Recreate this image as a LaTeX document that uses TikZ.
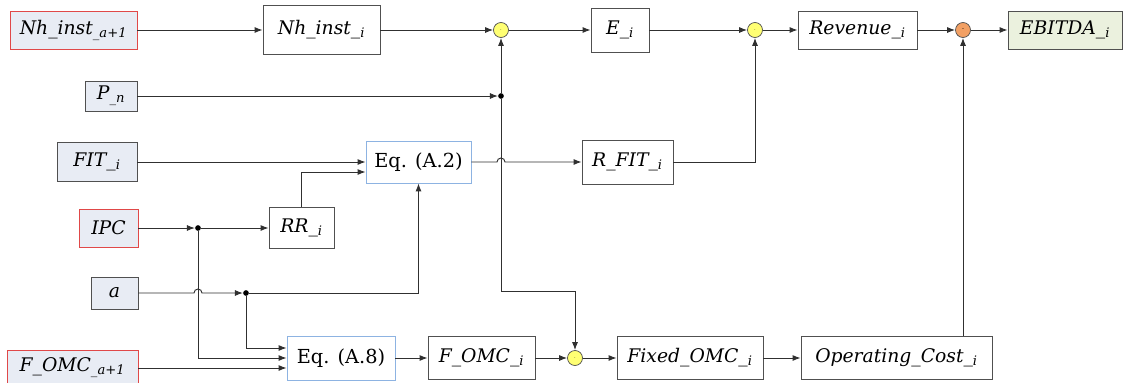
\documentclass[tikz,border=0pt]{standalone}
\usepackage{fontspec}
\setmainfont{DejaVu Serif}
\usepackage{tikz}
\usetikzlibrary{arrows.meta, positioning, calc}
\usepackage{xcolor}

\definecolor{inFill}{HTML}{E8ECF4}
\definecolor{outFill}{HTML}{EBF1DE}
\definecolor{redEdge}{HTML}{E04848}
\definecolor{boxGray}{HTML}{505050}
\definecolor{eqBlue}{HTML}{8DB3E2}
\definecolor{sumYellow}{HTML}{FFFF73}
\definecolor{subOrange}{HTML}{F2A064}
\definecolor{lineGray}{HTML}{303030}

\begin{document}
\begin{tikzpicture}[
    x=0.3mm, y=-0.3mm,
    varNode/.style={rectangle, fill=white, draw=boxGray, line width=0.7pt, inner sep=0pt, font=\fontsize{16}{19}\selectfont\itshape},
    inNode/.style={varNode, fill=inFill},
    keyNode/.style={inNode, draw=redEdge, line width=0.8pt},
    outNode/.style={varNode, fill=outFill},
    eqNode/.style={rectangle, fill=white, draw=eqBlue, line width=0.7pt, inner sep=0pt, font=\fontsize{16.5}{19}\selectfont},
    sumNode/.style={circle, fill=sumYellow, draw=boxGray, line width=0.6pt, minimum size=4.5mm, inner sep=0pt, font=\tiny},
    subNode/.style={sumNode, fill=subOrange},
    dotNode/.style={circle, fill=black, inner sep=0pt, minimum size=1.7mm},
    flowRel/.style={-{Latex[length=2.4mm, width=1.8mm]}, line width=0.8pt, draw=lineGray},
    plainRel/.style={line width=0.8pt, draw=lineGray}
]
    \useasboundingbox (0,0) rectangle (1123,383);
    \clip (0,0) rectangle (1123,383);

    % Inputs (left column)
    \node[keyNode, minimum width=38.1mm, minimum height=11.4mm] (nhA)   at (73.5,30) {Nh\_inst\textsubscript{\_a+1}};
    \node[inNode,  minimum width=15.6mm, minimum height=9mm]    (pn)    at (111,96)  {P\textsubscript{\_n}};
    \node[inNode,  minimum width=24mm,   minimum height=11.7mm] (fit)   at (97,162)  {FIT\_\textsubscript{i}};
    \node[keyNode, minimum width=17.7mm, minimum height=11.4mm] (ipc)   at (108.5,228) {IPC};
    \node[inNode,  minimum width=14.1mm, minimum height=9.6mm]  (aa)    at (114.5,293) {a};
    \node[keyNode, minimum width=39.3mm, minimum height=10.8mm] (fomcA) at (72.5,368) {F\_OMC\textsubscript{\_a+1}};

    % Intermediate blocks
    \node[varNode, minimum width=35.1mm, minimum height=14.7mm] (nhI)  at (321.5,30) {Nh\_inst\_\textsubscript{i}};
    \node[varNode, minimum width=19.5mm, minimum height=12.3mm] (rr)   at (301.5,228) {RR\_\textsubscript{i}};
    \node[eqNode,  minimum width=31.5mm, minimum height=12.6mm] (eqa2) at (418.5,162) {Eq. (A.2)};
    \node[eqNode,  minimum width=32.4mm, minimum height=13.2mm] (eqa8) at (341,358)   {Eq. (A.8)};
    \node[varNode, minimum width=17.4mm, minimum height=13.2mm] (ee)   at (620,30)    {E\_\textsubscript{i}};
    \node[varNode, minimum width=27.3mm, minimum height=13.2mm] (rfit) at (627.5,162) {R\_FIT\_\textsubscript{i}};
    \node[varNode, minimum width=32.1mm, minimum height=12.9mm] (fomc) at (481.5,358) {F\_OMC\_\textsubscript{i}};
    \node[varNode, minimum width=43.8mm, minimum height=12.9mm] (fixed) at (690,358)  {Fixed\_OMC\_\textsubscript{i}};
    \node[varNode, minimum width=57.3mm, minimum height=12.9mm] (opcost) at (896.5,358) {Operating\_Cost\_\textsubscript{i}};
    \node[varNode, minimum width=35.7mm, minimum height=11.4mm] (rev)  at (857.5,30)  {Revenue\_\textsubscript{i}};
    \node[outNode, minimum width=34.2mm, minimum height=11.4mm] (ebitda) at (1065,30) {EBITDA\_\textsubscript{i}};

    % Operators and junctions
    \node[sumNode] (sum1) at (501,30) {$\cdot$};
    \node[sumNode] (sum2) at (755,30) {$\cdot$};
    \node[sumNode] (sum3) at (575,358) {$\cdot$};
    \node[subNode] (minus) at (963,30) {-};
    \node[dotNode] (junc1) at (501,96) {};
    \node[dotNode] (ipcdot) at (198,228) {};
    \node[dotNode] (adot) at (246,293) {};
    \coordinate (omcTurn) at (501,291);

    % Top chain
    \draw[flowRel] (nhA) -- (nhI);
    \draw[flowRel] (nhI) -- (sum1);
    \draw[flowRel] (sum1) -- (ee);
    \draw[flowRel] (ee) -- (sum2);
    \draw[flowRel] (sum2) -- (rev);
    \draw[flowRel] (rev) -- (minus);
    \draw[flowRel] (minus) -- (ebitda);

    % Price line
    \draw[flowRel] (pn) -- (junc1);
    \draw[flowRel] (junc1) -- (sum1);
    \draw[flowRel] (junc1) -- (omcTurn) -| (sum3);

    % Feed-in tariff
    \draw[flowRel] (fit) -- (eqa2);
    \draw[flowRel] (eqa2) -- ($(junc1 |- eqa2)+(-4,0)$) arc[start angle=180, end angle=0, radius=1.2mm] -- (rfit);
    \draw[flowRel] (rfit) -| (sum2);

    % IPC and a
    \draw[flowRel] (ipc) -- (ipcdot);
    \draw[flowRel] (ipcdot) -- (rr);
    \draw[flowRel] (rr.north) |- ($(eqa2.west)+(0,10)$);
    \draw[flowRel] (ipcdot) |- (eqa8.west);
    \draw[flowRel] (aa) -- ($(ipcdot |- aa)+(-4,0)$) arc[start angle=180, end angle=0, radius=1.2mm] -- (adot);
    \draw[flowRel] (adot) -| (eqa2);
    \draw[flowRel] (adot) |- ($(eqa8.west)+(0,-10)$);
    \draw[flowRel] (fomcA) -- ($(eqa8.west)+(0,10)$);

    % Cost chain
    \draw[flowRel] (eqa8) -- (fomc);
    \draw[flowRel] (fomc) -- (sum3);
    \draw[flowRel] (sum3) -- (fixed);
    \draw[flowRel] (fixed) -- (opcost);
    \draw[flowRel] (minus |- opcost.north) -- (minus);
\end{tikzpicture}
\end{document}
